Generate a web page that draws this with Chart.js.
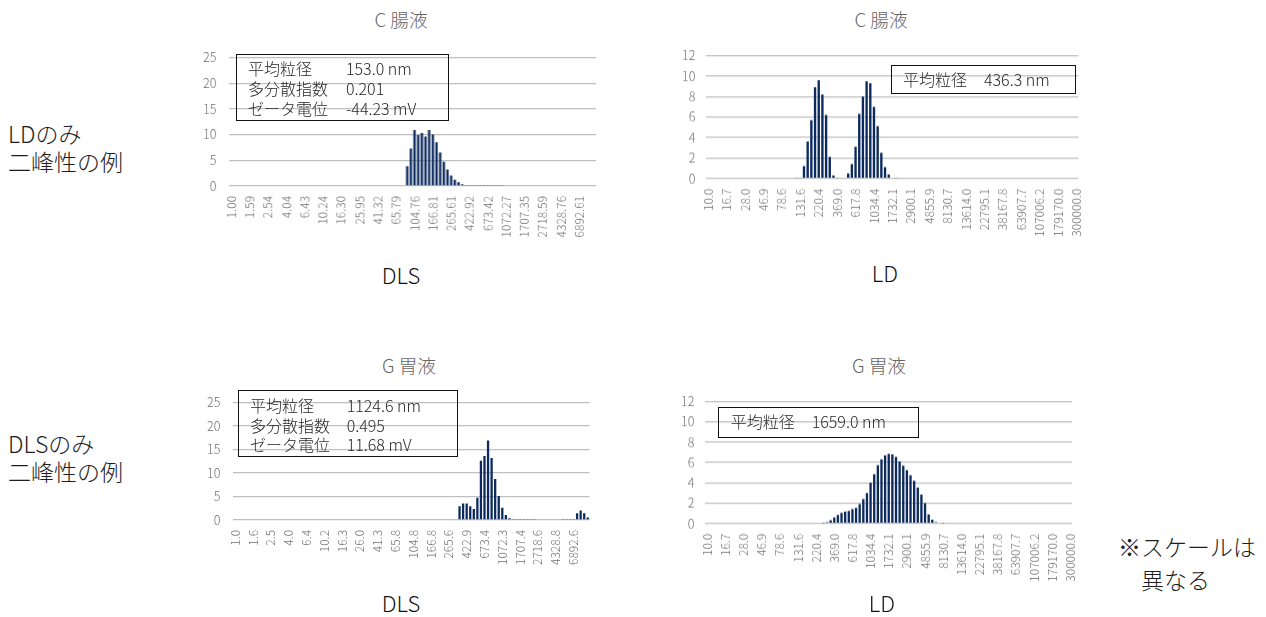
<!DOCTYPE html>
<html lang="ja">
<head>
<meta charset="utf-8">
<title>粒子径分布</title>
<script src="https://cdn.jsdelivr.net/npm/chart.js@4.4.1/dist/chart.umd.min.js"></script>
<style>
  html, body { margin: 0; padding: 0; background: #fff; }
  body { width: 1266px; height: 617px; position: relative; overflow: hidden;
         font-family: "Noto Sans CJK JP", "Noto Sans", sans-serif; }
  canvas { position: absolute; }
  .t { position: absolute; white-space: nowrap; line-height: 1; font-weight: 300; }
  .title { font-size: 18.7px; color: #666; transform: translateX(-50%); }
  .method { font-size: 22px; color: #111; transform: translateX(-50%); }
  .side { font-size: 23px; color: #1e1e1e; }
  .box { position: absolute; border: 1.5px solid #111; box-sizing: border-box; }
  .bt { font-size: 16px; color: #262626; }
</style>
</head>
<body>
<canvas id="cDLS" width="420" height="220"></canvas>
<canvas id="cLD" width="420" height="220"></canvas>
<canvas id="gDLS" width="420" height="220"></canvas>
<canvas id="gLD" width="420" height="220"></canvas>

<!-- chart titles -->
<div class="t title" style="left:401px; top:9.5px;">C 腸液</div>
<div class="t title" style="left:881px; top:9.5px;">C 腸液</div>
<div class="t title" style="left:409px; top:355.5px;">G 胃液</div>
<div class="t title" style="left:879px; top:355.5px;">G 胃液</div>

<!-- measurement method under each chart -->
<div class="t method" style="left:401px; top:262.7px;">DLS</div>
<div class="t method" style="left:885px; top:260.7px;">LD</div>
<div class="t method" style="left:401px; top:590.7px;">DLS</div>
<div class="t method" style="left:882px; top:590.7px;">LD</div>

<!-- row captions -->
<div class="t side" style="left:8px; top:122px;">LDのみ</div>
<div class="t side" style="left:8px; top:150px;">二峰性の例</div>
<div class="t side" style="left:8px; top:432px;">DLSのみ</div>
<div class="t side" style="left:8px; top:460px;">二峰性の例</div>
<div class="t side" style="left:1118px; top:535px;">※スケールは</div>
<div class="t side" style="left:1141px; top:567.5px;">異なる</div>

<!-- summary boxes -->
<div class="box" style="left:236px; top:54px; width:213px; height:67px;"></div>
<div class="t bt" style="left:248px; top:60.3px;">平均粒径</div>
<div class="t bt" style="left:346px; top:60.3px;">153.0 nm</div>
<div class="t bt" style="left:248px; top:80.3px;">多分散指数</div>
<div class="t bt" style="left:346px; top:80.3px;">0.201</div>
<div class="t bt" style="left:248px; top:100px;">ゼータ電位</div>
<div class="t bt" style="left:346px; top:100px;">-44.23 mV</div>

<div class="box" style="left:891px; top:65px; width:185px; height:29px;"></div>
<div class="t bt" style="left:903px; top:71px;">平均粒径</div>
<div class="t bt" style="left:984px; top:71px;">436.3 nm</div>

<div class="box" style="left:237.5px; top:389.5px; width:220px; height:67px;"></div>
<div class="t bt" style="left:250px; top:396.7px;">平均粒径</div>
<div class="t bt" style="left:346.7px; top:396.7px;">1124.6 nm</div>
<div class="t bt" style="left:250px; top:416.7px;">多分散指数</div>
<div class="t bt" style="left:346.7px; top:416.7px;">0.495</div>
<div class="t bt" style="left:250px; top:436px;">ゼータ電位</div>
<div class="t bt" style="left:346.7px; top:436px;">11.68 mV</div>

<div class="box" style="left:718px; top:407px; width:201px; height:31px;"></div>
<div class="t bt" style="left:730.7px; top:413.3px;">平均粒径</div>
<div class="t bt" style="left:811.7px; top:413.3px;">1659.0 nm</div>

<script>
// Size-class tick labels (every fifth bin is labelled)
const dlsTicksC = ['1.00','1.59','2.54','4.04','6.43','10.24','16.30','25.95','41.32','65.79',
  '104.76','166.81','265.61','422.92','673.42','1072.27','1707.35','2718.59','4328.76','6892.61'];
const dlsTicksG = ['1.0','1.6','2.5','4.0','6.4','10.2','16.3','26.0','41.3','65.8',
  '104.8','166.8','265.6','422.9','673.4','1072.3','1707.4','2718.6','4328.8','6892.6'];
const ldTicks = ['10.0','16.7','28.0','46.9','78.6','131.6','220.4','369.0','617.8','1034.4',
  '1732.1','2900.1','4855.9','8130.7','13614.0','22795.1','38167.8','63907.7','107006.2',
  '179170.0','300000.0'];

// Frequency (%) per size bin — DLS: 100 bins, LD: 101 bins
const dlsIntestinal = [
  0,0,0,0,0,0,0,0,0,0,
  0,0,0,0,0,0,0,0,0,0,
  0,0,0,0,0,0,0,0,0,0,
  0,0,0,0,0,0,0,0,0,0,
  0,0,0,0,0,0,0,0,3.8,7.3,
  10.9,9.9,10.3,9.6,10.9,10.0,8.5,6.5,4.7,3.2,
  2.0,1.2,0.7,0.3,0.15,0.08,0.08,0.08,0.08,0.08,
  0.08,0.08,0.08,0.08,0.08,0,0,0,0,0,
  0,0,0,0,0,0,0,0,0,0,
  0,0,0,0,0,0,0,0,0,0
];
const ldIntestinal = [
  0,0,0,0,0,0,0,0,0,0,
  0,0,0,0,0,0,0,0,0,0,
  0,0,0,0,0.05,0.05,1.2,3.6,5.7,8.9,
  9.6,8.2,6.2,2.1,0.3,0.05,0,0,0.5,1.4,
  3.1,6.3,8.0,9.5,9.3,7.0,5.1,2.5,1.1,0.4,
  0,0.05,0,0,0,0,0,0,0,0,
  0,0,0,0,0,0,0,0,0,0,
  0,0,0,0,0,0,0,0,0,0,
  0,0,0,0,0,0,0,0,0,0,
  0,0,0,0,0,0,0,0,0,0,
  0
];
const dlsGastric = [
  0,0,0,0,0,0,0,0,0,0,
  0,0,0,0,0,0,0,0,0,0,
  0,0,0,0,0,0,0,0,0,0,
  0,0,0,0,0,0,0,0,0,0,
  0,0,0,0,0,0,0,0,0,0,
  0,0,0,0,0,0,0,0,0,0,
  0,0,0,2.9,3.5,3.5,2.9,2.3,4.7,12.6,
  13.6,16.9,13.2,8.7,5.1,2.6,1.05,0.35,0.1,0.1,
  0.1,0.1,0.1,0.1,0.1,0,0,0,0,0,
  0,0,0.1,0.1,0.1,0.1,1.4,2.0,1.4,0.5
];
const ldGastric = [
  0,0,0,0,0,0,0,0,0,0,
  0,0,0,0,0,0,0,0,0,0,
  0,0,0,0,0,0,0,0,0,0,
  0,0,0.03,0.13,0.33,0.6,0.84,1.04,1.17,1.24,
  1.4,1.54,1.9,2.4,3.0,4.0,4.85,5.75,6.3,6.7,
  6.85,6.8,6.55,6.1,5.7,5.25,4.75,4.2,3.55,2.85,
  2.0,0.9,0.37,0.13,0.07,0.03,0,0,0,0,
  0,0,0,0,0,0,0,0,0,0,
  0,0,0,0,0,0,0,0,0,0,
  0,0,0,0,0,0,0,0,0,0,
  0
];

const BAR = '#0c2a5e';
const GRID = '#bfbfbf';
const TICK = '#6f6f6f';
const FONT = '"Noto Sans CJK JP", "Noto Sans", sans-serif';
Chart.defaults.font.family = FONT;

// one category per bin; only every fifth bin carries its label
function binLabels(ticks, count) {
  const out = [];
  for (let i = 0; i < count; i++) out.push(i % 5 === 0 ? ticks[i / 5] : '');
  return out;
}

function makeChart(id, ticks, values, yMax, yStep, yPad, area) {
  const canvas = document.getElementById(id);
  const chart = new Chart(canvas, {
    type: 'bar',
    data: {
      labels: binLabels(ticks, values.length),
      datasets: [{ data: values, backgroundColor: BAR, barPercentage: 0.64, categoryPercentage: 1 }]
    },
    options: {
      responsive: false,
      maintainAspectRatio: false,
      animation: false,
      layout: { padding: { top: 10, right: 4, left: 0, bottom: 0 } },
      plugins: { legend: { display: false }, tooltip: { enabled: false }, title: { display: false } },
      scales: {
        x: {
          grid: { display: false, drawTicks: false },
          border: { display: false },
          ticks: { autoSkip: false, minRotation: 90, maxRotation: 90, padding: 10,
                   color: TICK, font: { size: 12, weight: 300 } }
        },
        y: {
          min: 0, max: yMax,
          grid: { color: GRID, lineWidth: 1.3, drawTicks: false },
          border: { display: false },
          ticks: { stepSize: yStep, padding: yPad, color: TICK, font: { size: 12.5, weight: 300 } }
        }
      }
    }
  });
  // size the canvas so the plot area has the wanted extent, then place it
  for (let k = 0; k < 3; k++) {
    const ca = chart.chartArea;
    const w = chart.width + (area.w - (ca.right - ca.left));
    const h = chart.height + (area.h - (ca.bottom - ca.top));
    chart.resize(Math.round(w * 10) / 10, Math.round(h * 10) / 10);
  }
  const ca = chart.chartArea;
  canvas.style.left = (area.x - ca.left) + 'px';
  canvas.style.top = (area.y - ca.top) + 'px';
  return chart;
}

makeChart('cDLS', dlsTicksC, dlsIntestinal, 25, 5, 13, { x: 229.5, y: 57.3, w: 365.5, h: 128.4 });
makeChart('cLD', ldTicks, ldIntestinal, 12, 2, 11, { x: 706.5, y: 55.7, w: 372, h: 122.3 });
makeChart('gDLS', dlsTicksG, dlsGastric, 25, 5, 13, { x: 233.1, y: 402.3, w: 356.2, h: 117.4 });
makeChart('gLD', ldTicks, ldGastric, 12, 2, 11, { x: 705, y: 401.7, w: 366.7, h: 121.3 });
</script>
</body>
</html>
